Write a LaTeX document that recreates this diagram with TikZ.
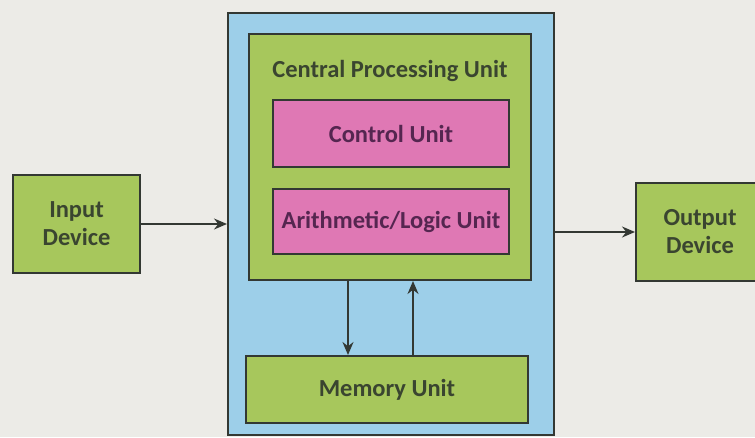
\documentclass[tikz,border=0pt]{standalone}
\usepackage{fontspec}
\setmainfont{Carlito}
\usetikzlibrary{arrows.meta,calc}
\definecolor{paper}{HTML}{ECEBE7}
\definecolor{skyb}{HTML}{9DCFE9}
\definecolor{leaf}{HTML}{A7C75C}
\definecolor{rose}{HTML}{DF78B4}
\definecolor{edge}{HTML}{333833}
\definecolor{greentext}{HTML}{3A4530}
\definecolor{rosetext}{HTML}{552650}
\tikzset{
  blk/.style={draw=edge, line width=2pt, anchor=north west, inner sep=0pt},
  lbl/.style={font=\fontsize{24.5}{28}\selectfont\bfseries, text=greentext, align=center},
  rlbl/.style={font=\fontsize{24.5}{28}\selectfont\bfseries, text=rosetext, align=center},
  conn/.style={draw=edge, line width=1.5pt, -{Stealth[length=13pt,width=11pt]}}
}
\begin{document}
\begin{tikzpicture}[x=1pt,y=-1pt]
\fill[paper] (0,0) rectangle (755,437);
\useasboundingbox (0,0) rectangle (755,437);
\begin{scope}
\clip (0,0) rectangle (755,437);
\node[blk, fill=skyb, minimum width=326pt, minimum height=422pt] (sys) at (227,12) {};
\node[blk, fill=leaf, minimum width=282pt, minimum height=246pt] (cpu) at (248,33) {};
\node[lbl] (cpulbl) at (390,71) {Central Processing Unit};
\node[blk, fill=rose, minimum width=236pt, minimum height=67pt] (cu) at (272,99) {};
\node[rlbl] at (cu.center) {Control Unit};
\node[blk, fill=rose, minimum width=236pt, minimum height=65pt] (alu) at (272,188) {};
\node[rlbl] at (alu.center) {Arithmetic/Logic Unit};
\node[blk, fill=leaf, minimum width=282pt, minimum height=67pt] (mem) at (245,355) {};
\node[lbl] at (mem.center) {Memory Unit};
\node[blk, fill=leaf, minimum width=127pt, minimum height=98pt] (in) at (12,174) {};
\node[lbl] at (in.center) {Input\\Device};
\node[blk, fill=leaf, minimum width=140pt, minimum height=98pt] (out) at (635,182) {};
\node[lbl] at ($(out.west)+(65,0)$) {Output\\Device};
\end{scope}
\coordinate (dtop) at (cpu.south -| 348,0);
\coordinate (dbot) at (mem.north -| 348,0);
\coordinate (utop) at (cpu.south -| 413,0);
\coordinate (ubot) at (mem.north -| 413,0);
\draw[conn] (in.east) -- (in.east -| sys.west);
\draw[conn] (out.west -| sys.east) -- (out.west);
\draw[conn] (dtop) -- (dbot);
\draw[conn] (ubot) -- (utop);
\end{tikzpicture}
\end{document}
